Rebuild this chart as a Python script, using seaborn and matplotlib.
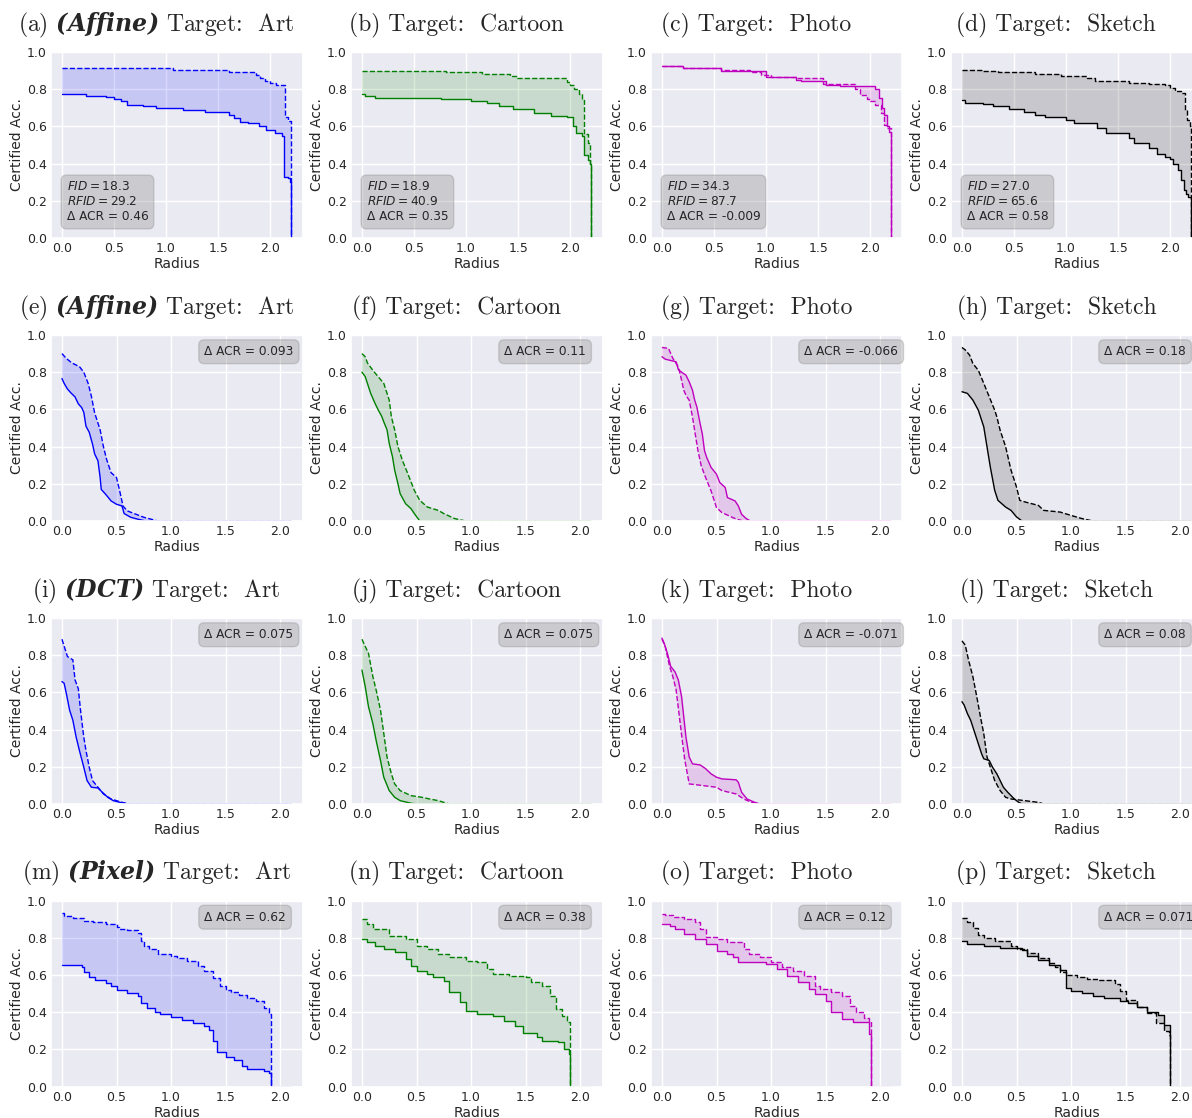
import matplotlib
matplotlib.use("Agg")
import matplotlib.pyplot as plt
import seaborn as sns

# ---------------- data (radius, certified accuracy) knots ----------------
a_dashed = [(0, 0.914), (1.07, 0.905), (1.6, 0.895), (1.86, 0.875), (1.9, 0.86), (1.95, 0.845), (2.0, 0.835),
            (2.06, 0.825), (2.14, 0.65), (2.17, 0.63), (2.2, 0.0)]
a_solid = [(0, 0.775), (0.23, 0.765), (0.42, 0.757), (0.5, 0.748), (0.57, 0.737), (0.62, 0.716), (0.78, 0.707),
           (0.9, 0.698), (1.16, 0.69), (1.37, 0.676), (1.6, 0.66), (1.65, 0.645), (1.71, 0.626), (1.79, 0.617),
           (1.89, 0.6), (1.96, 0.58), (2.05, 0.563), (2.11, 0.55), (2.13, 0.33), (2.17, 0.32), (2.19, 0.30), (2.2, 0.0)]
b_dashed = [(0, 0.90), (0.81, 0.892), (1.15, 0.883), (1.42, 0.872), (1.49, 0.858), (1.97, 0.84), (2.0, 0.82),
            (2.04, 0.80), (2.08, 0.775), (2.11, 0.74), (2.13, 0.56), (2.17, 0.51), (2.19, 0.40), (2.2, 0.0)]
b_solid = [(0, 0.775), (0.03, 0.766), (0.13, 0.755), (0.76, 0.746), (1.05, 0.737), (1.2, 0.725), (1.32, 0.707),
           (1.45, 0.692), (1.65, 0.67), (1.82, 0.656), (1.97, 0.649), (2.03, 0.6), (2.06, 0.563), (2.11, 0.55),
           (2.13, 0.446), (2.17, 0.42), (2.19, 0.40), (2.2, 0.0)]
c_dashed = [(0, 0.923), (0.2, 0.914), (0.57, 0.905), (0.85, 0.89), (0.95, 0.875), (1.05, 0.865), (1.3, 0.858),
            (1.55, 0.83), (1.85, 0.80), (1.9, 0.77), (1.97, 0.75), (2.0, 0.734), (2.05, 0.716), (2.1, 0.67),
            (2.13, 0.61), (2.16, 0.59), (2.2, 0.0)]
c_solid = [(0, 0.923), (0.2, 0.914), (0.57, 0.896), (1.0, 0.865), (1.29, 0.851), (1.34, 0.842), (1.58, 0.824),
           (1.71, 0.815), (2.05, 0.80), (2.08, 0.752), (2.11, 0.70), (2.13, 0.662), (2.16, 0.60), (2.18, 0.572),
           (2.2, 0.0)]
d_dashed = [(0, 0.905), (0.2, 0.9), (0.35, 0.895), (0.7, 0.883), (0.95, 0.872), (1.2, 0.86), (1.28, 0.842),
            (1.6, 0.836), (1.8, 0.83), (1.95, 0.82), (2.0, 0.805), (2.05, 0.79), (2.1, 0.78), (2.14, 0.69),
            (2.16, 0.635), (2.19, 0.60), (2.2, 0.0)]
d_solid = [(0, 0.743), (0.03, 0.728), (0.2, 0.72), (0.3, 0.707), (0.45, 0.694), (0.6, 0.678), (0.7, 0.662),
           (0.8, 0.653), (1.0, 0.635), (1.08, 0.617), (1.3, 0.59), (1.38, 0.563), (1.6, 0.536), (1.65, 0.509),
           (1.8, 0.482), (1.87, 0.45), (1.95, 0.437), (2.0, 0.423), (2.03, 0.40), (2.07, 0.365), (2.1, 0.31),
           (2.13, 0.257), (2.15, 0.239), (2.17, 0.221), (2.2, 0.0)]
e_dashed = [(0, 0.9), (0.04, 0.874), (0.09, 0.85), (0.16, 0.83), (0.2, 0.80), (0.24, 0.74), (0.27, 0.67),
            (0.3, 0.58), (0.32, 0.545), (0.35, 0.49), (0.38, 0.40), (0.41, 0.33), (0.45, 0.26), (0.5, 0.234),
            (0.53, 0.16), (0.56, 0.08), (0.6, 0.054), (0.68, 0.036), (0.75, 0.02), (0.88, 0.0), (2.1, 0.0)]
e_solid = [(0, 0.766), (0.02, 0.74), (0.05, 0.71), (0.08, 0.69), (0.12, 0.667), (0.15, 0.63), (0.18, 0.61),
           (0.2, 0.585), (0.22, 0.51), (0.25, 0.477), (0.28, 0.414), (0.3, 0.36), (0.33, 0.324), (0.35, 0.234),
           (0.36, 0.17), (0.4, 0.144), (0.45, 0.108), (0.5, 0.09), (0.55, 0.081), (0.57, 0.04), (0.63, 0.02),
           (0.7, 0.009), (0.77, 0.0), (2.1, 0.0)]
f_dashed = [(0, 0.90), (0.03, 0.883), (0.05, 0.85), (0.1, 0.81), (0.15, 0.775), (0.2, 0.74), (0.25, 0.65),
            (0.27, 0.56), (0.3, 0.49), (0.33, 0.40), (0.37, 0.327), (0.42, 0.255), (0.48, 0.165), (0.53, 0.111),
            (0.6, 0.075), (0.7, 0.057), (0.75, 0.04), (0.85, 0.013), (0.95, 0.0), (2.1, 0.0)]
f_solid = [(0, 0.80), (0.03, 0.776), (0.05, 0.74), (0.08, 0.686), (0.12, 0.632), (0.15, 0.596), (0.18, 0.564),
           (0.2, 0.533), (0.23, 0.49), (0.25, 0.417), (0.28, 0.345), (0.3, 0.273), (0.33, 0.2), (0.35, 0.147),
           (0.4, 0.093), (0.45, 0.066), (0.48, 0.04), (0.53, 0.0), (2.1, 0.0)]
g_dashed = [(0, 0.933), (0.06, 0.928), (0.1, 0.874), (0.15, 0.829), (0.18, 0.757), (0.2, 0.703), (0.22, 0.676),
            (0.25, 0.649), (0.28, 0.559), (0.3, 0.486), (0.33, 0.378), (0.36, 0.297), (0.4, 0.234), (0.45, 0.162),
            (0.5, 0.072), (0.55, 0.045), (0.6, 0.032), (0.65, 0.018), (0.7, 0.007), (0.75, 0.0), (2.1, 0.0)]
g_solid = [(0, 0.883), (0.03, 0.87), (0.13, 0.856), (0.15, 0.814), (0.18, 0.80), (0.22, 0.784), (0.25, 0.748),
           (0.28, 0.703), (0.3, 0.65), (0.32, 0.613), (0.35, 0.523), (0.37, 0.468), (0.39, 0.378), (0.41, 0.342),
           (0.45, 0.288), (0.5, 0.252), (0.53, 0.207), (0.58, 0.18), (0.6, 0.126), (0.67, 0.108), (0.7, 0.081),
           (0.73, 0.036), (0.77, 0.014), (0.81, 0.0), (2.1, 0.0)]
h_dashed = [(0, 0.933), (0.03, 0.92), (0.07, 0.892), (0.1, 0.847), (0.15, 0.81), (0.2, 0.74), (0.25, 0.668),
            (0.3, 0.596), (0.32, 0.56), (0.35, 0.488), (0.4, 0.40), (0.45, 0.273), (0.5, 0.183), (0.53, 0.111),
            (0.58, 0.102), (0.7, 0.084), (0.75, 0.057), (0.9, 0.048), (1.0, 0.03), (1.1, 0.013), (1.2, 0.0),
            (2.1, 0.0)]
h_solid = [(0, 0.695), (0.05, 0.686), (0.1, 0.65), (0.15, 0.596), (0.2, 0.506), (0.23, 0.398), (0.26, 0.29),
           (0.3, 0.165), (0.33, 0.111), (0.4, 0.075), (0.45, 0.057), (0.5, 0.022), (0.55, 0.0), (2.1, 0.0)]
i_dashed = [(0, 0.886), (0.05, 0.793), (0.1, 0.775), (0.12, 0.667), (0.15, 0.62), (0.17, 0.505), (0.2, 0.36),
            (0.22, 0.288), (0.25, 0.198), (0.28, 0.126), (0.33, 0.09), (0.38, 0.054), (0.45, 0.027), (0.55, 0.009),
            (0.62, 0.0), (2.1, 0.0)]
i_solid = [(0, 0.658), (0.02, 0.649), (0.04, 0.595), (0.07, 0.505), (0.1, 0.45), (0.13, 0.36), (0.16, 0.288),
           (0.2, 0.198), (0.23, 0.126), (0.27, 0.09), (0.33, 0.086), (0.37, 0.063), (0.42, 0.036), (0.47, 0.018),
           (0.53, 0.009), (0.6, 0.0), (2.1, 0.0)]
j_dashed = [(0, 0.886), (0.03, 0.847), (0.06, 0.81), (0.1, 0.685), (0.13, 0.613), (0.17, 0.505), (0.2, 0.38),
            (0.23, 0.252), (0.27, 0.162), (0.3, 0.108), (0.35, 0.072), (0.45, 0.045), (0.55, 0.036), (0.62, 0.027),
            (0.7, 0.018), (0.8, 0.0), (2.1, 0.0)]
j_solid = [(0, 0.72), (0.03, 0.631), (0.06, 0.523), (0.1, 0.432), (0.13, 0.342), (0.17, 0.234), (0.2, 0.144),
           (0.25, 0.072), (0.3, 0.036), (0.35, 0.018), (0.45, 0.004), (0.5, 0.0), (2.1, 0.0)]
k_dashed = [(0, 0.886), (0.03, 0.847), (0.07, 0.74), (0.1, 0.685), (0.13, 0.613), (0.16, 0.468), (0.19, 0.324),
            (0.21, 0.234), (0.25, 0.108), (0.5, 0.09), (0.55, 0.072), (0.68, 0.054), (0.75, 0.027), (0.82, 0.009),
            (0.9, 0.0), (2.1, 0.0)]
k_solid = [(0, 0.892), (0.02, 0.865), (0.05, 0.81), (0.08, 0.74), (0.12, 0.71), (0.15, 0.667), (0.18, 0.577),
           (0.2, 0.468), (0.22, 0.36), (0.25, 0.252), (0.28, 0.216), (0.35, 0.21), (0.4, 0.19), (0.45, 0.162),
           (0.5, 0.144), (0.55, 0.135), (0.68, 0.13), (0.7, 0.117), (0.73, 0.063), (0.78, 0.027), (0.85, 0.009),
           (0.9, 0.0), (2.1, 0.0)]
l_dashed = [(0, 0.877), (0.03, 0.855), (0.06, 0.775), (0.1, 0.685), (0.13, 0.595), (0.17, 0.468), (0.2, 0.378),
            (0.23, 0.252), (0.27, 0.18), (0.3, 0.126), (0.35, 0.072), (0.4, 0.036), (0.45, 0.027), (0.7, 0.009),
            (0.75, 0.0), (2.1, 0.0)]
l_solid = [(0, 0.55), (0.02, 0.532), (0.05, 0.486), (0.08, 0.45), (0.12, 0.378), (0.15, 0.324), (0.18, 0.27),
           (0.2, 0.243), (0.25, 0.234), (0.28, 0.198), (0.32, 0.162), (0.35, 0.126), (0.38, 0.09), (0.42, 0.063),
           (0.48, 0.027), (0.52, 0.009), (0.55, 0.0), (2.1, 0.0)]
m_dashed = [(0, 0.935), (0.02, 0.914), (0.1, 0.905), (0.2, 0.892), (0.28, 0.883), (0.4, 0.873), (0.5, 0.86),
            (0.52, 0.848), (0.6, 0.842), (0.7, 0.824), (0.72, 0.78), (0.75, 0.756), (0.8, 0.738), (0.88, 0.71),
            (1.0, 0.70), (1.05, 0.69), (1.15, 0.674), (1.25, 0.647), (1.3, 0.62), (1.38, 0.584), (1.45, 0.54),
            (1.5, 0.519), (1.55, 0.508), (1.62, 0.49), (1.7, 0.476), (1.78, 0.458), (1.85, 0.423), (1.9, 0.39),
            (1.92, 0.0), (2.1, 0.0)]
m_solid = [(0, 0.654), (0.18, 0.64), (0.2, 0.618), (0.25, 0.59), (0.3, 0.573), (0.4, 0.556), (0.45, 0.538),
           (0.5, 0.52), (0.6, 0.502), (0.7, 0.485), (0.72, 0.448), (0.78, 0.421), (0.85, 0.403), (0.9, 0.39),
           (1.0, 0.376), (1.1, 0.358), (1.2, 0.34), (1.3, 0.323), (1.35, 0.305), (1.38, 0.242), (1.42, 0.188),
           (1.5, 0.161), (1.58, 0.143), (1.65, 0.108), (1.7, 0.093), (1.85, 0.084), (1.9, 0.072), (1.92, 0.0),
           (2.1, 0.0)]
n_dashed = [(0, 0.90), (0.05, 0.874), (0.1, 0.847), (0.25, 0.811), (0.4, 0.793), (0.5, 0.758), (0.6, 0.74),
            (0.7, 0.713), (0.8, 0.695), (0.95, 0.677), (1.05, 0.668), (1.15, 0.632), (1.2, 0.605), (1.35, 0.596),
            (1.5, 0.587), (1.55, 0.56), (1.65, 0.542), (1.72, 0.488), (1.78, 0.417), (1.83, 0.38), (1.88, 0.345),
            (1.91, 0.0), (2.1, 0.0)]
n_solid = [(0, 0.793), (0.05, 0.776), (0.12, 0.758), (0.2, 0.74), (0.3, 0.722), (0.4, 0.686), (0.45, 0.65),
           (0.5, 0.623), (0.6, 0.605), (0.65, 0.587), (0.75, 0.569), (0.8, 0.506), (0.9, 0.452), (0.95, 0.408),
           (1.05, 0.39), (1.2, 0.38), (1.3, 0.354), (1.4, 0.327), (1.48, 0.287), (1.6, 0.264), (1.65, 0.246),
           (1.8, 0.237), (1.85, 0.2), (1.9, 0.174), (1.91, 0.0), (2.1, 0.0)]
o_dashed = [(0, 0.928), (0.03, 0.92), (0.1, 0.91), (0.2, 0.898), (0.3, 0.883), (0.35, 0.847), (0.4, 0.803),
            (0.5, 0.793), (0.6, 0.776), (0.75, 0.74), (0.8, 0.713), (0.9, 0.695), (1.0, 0.668), (1.1, 0.641),
            (1.2, 0.623), (1.3, 0.596), (1.4, 0.542), (1.45, 0.524), (1.55, 0.506), (1.65, 0.488), (1.72, 0.434),
            (1.78, 0.398), (1.85, 0.37), (1.9, 0.35), (1.92, 0.0), (2.1, 0.0)]
o_solid = [(0, 0.874), (0.07, 0.865), (0.12, 0.847), (0.2, 0.82), (0.3, 0.793), (0.4, 0.767), (0.5, 0.731),
           (0.6, 0.713), (0.65, 0.695), (0.7, 0.668), (0.95, 0.659), (1.05, 0.632), (1.15, 0.596), (1.25, 0.56),
           (1.35, 0.524), (1.4, 0.497), (1.5, 0.461), (1.55, 0.398), (1.65, 0.362), (1.75, 0.348), (1.85, 0.345),
           (1.9, 0.282), (1.92, 0.0), (2.1, 0.0)]
p_dashed = [(0, 0.905), (0.05, 0.887), (0.1, 0.851), (0.15, 0.815), (0.2, 0.797), (0.3, 0.78), (0.45, 0.753),
            (0.5, 0.738), (0.6, 0.717), (0.7, 0.69), (0.8, 0.663), (0.85, 0.645), (0.9, 0.618), (0.95, 0.60),
            (1.05, 0.59), (1.15, 0.58), (1.25, 0.572), (1.4, 0.553), (1.45, 0.511), (1.5, 0.466), (1.6, 0.43),
            (1.7, 0.394), (1.78, 0.34), (1.85, 0.296), (1.9, 0.278), (1.91, 0.0), (2.1, 0.0)]
p_solid = [(0, 0.78), (0.05, 0.767), (0.2, 0.756), (0.35, 0.744), (0.55, 0.735), (0.6, 0.699), (0.7, 0.68),
           (0.8, 0.654), (0.9, 0.627), (0.95, 0.529), (1.0, 0.511), (1.1, 0.502), (1.2, 0.484), (1.3, 0.475),
           (1.45, 0.457), (1.52, 0.448), (1.6, 0.43), (1.7, 0.403), (1.8, 0.385), (1.85, 0.33), (1.91, 0.0),
           (2.1, 0.0)]

dashed_series = [a_dashed, b_dashed, c_dashed, d_dashed, e_dashed, f_dashed, g_dashed, h_dashed,
                 i_dashed, j_dashed, k_dashed, l_dashed, m_dashed, n_dashed, o_dashed, p_dashed]
solid_series = [a_solid, b_solid, c_solid, d_solid, e_solid, f_solid, g_solid, h_solid,
                i_solid, j_solid, k_solid, l_solid, m_solid, n_solid, o_solid, p_solid]

panel_letters = list("abcdefghijklmnop")
row_methods = ["(Affine)", "(Affine)", "(DCT)", "(Pixel)"]
targets = ["Art", "Cartoon", "Photo", "Sketch"]
colors = ["#0000ff", "#008000", "#bf00bf", "#000000"]
fid_values = ["18.3", "18.9", "34.3", "27.0"]
rfid_values = ["29.2", "40.9", "87.7", "65.6"]
dacr_row1 = ["0.46", "0.35", "-0.009", "0.58"]
dacr_row2 = ["0.093", "0.11", "-0.066", "0.18"]
dacr_row3 = ["0.075", "0.075", "-0.071", "0.08"]
dacr_row4 = ["0.62", "0.38", "0.12", "0.071"]
dacr_rows = [dacr_row1, dacr_row2, dacr_row3, dacr_row4]
x_ticks = [0.0, 0.5, 1.0, 1.5, 2.0]
y_ticks = [0.0, 0.2, 0.4, 0.6, 0.8, 1.0]

# ---------------- style ----------------
sns.set_theme(style="darkgrid")
plt.rcParams["mathtext.fontset"] = "custom"
plt.rcParams["mathtext.bfit"] = "DejaVu Serif:italic:bold"
plt.rcParams["mathtext.it"] = "DejaVu Sans:italic"
plt.rcParams["mathtext.rm"] = "DejaVu Sans"
plt.rcParams["xtick.labelsize"] = 9
plt.rcParams["ytick.labelsize"] = 9
plt.rcParams["xtick.major.size"] = 0
plt.rcParams["ytick.major.size"] = 0
plt.rcParams["xtick.major.pad"] = 3
plt.rcParams["ytick.major.pad"] = 2.5

row_is_step = [True, False, False, True]


def step_path(pts, step):
    if not step:
        return [p[0] for p in pts], [p[1] for p in pts]
    xs, ys = [pts[0][0]], [pts[0][1]]
    for k in range(1, len(pts)):
        xs += [pts[k][0], pts[k][0]]
        ys += [pts[k - 1][1], pts[k][1]]
    return xs, ys


W, H = 1192.0, 1118.0
fig = plt.figure(figsize=(W / 100, H / 100), dpi=100)
ax_w, ax_h = 252.0, 186.0
col_left = [50.5 + 300 * c for c in range(4)]
row_top = [52.0, 335.0, 618.0, 900.5]

for r in range(4):
    for c in range(4):
        idx = 4 * r + c
        ax = fig.add_axes([col_left[c] / W, 1 - (row_top[r] + ax_h) / H, ax_w / W, ax_h / H])
        col = colors[c]
        up = dashed_series[idx]
        lo = solid_series[idx]
        st = row_is_step[r]
        ux, uy = step_path(up, st)
        lx, ly = step_path(lo, st)
        ax.fill(ux + lx[::-1], uy + ly[::-1], color=col, alpha=0.15, lw=0)
        sns.lineplot(x=ux, y=uy, ax=ax, color=col, lw=1.0,
                     linestyle="--", estimator=None, sort=False)
        sns.lineplot(x=lx, y=ly, ax=ax, color=col, lw=1.0,
                     linestyle="-", estimator=None, sort=False)
        ax.set_ylim(0, 1)
        ax.set_xticks(x_ticks)
        ax.set_yticks(y_ticks)
        ax.set_xlabel("Radius", fontsize=10, labelpad=1.5)
        ax.set_ylabel("Certified Acc.", fontsize=10, labelpad=2.5)
        if c == 0:
            title = f"({panel_letters[idx]}) $\\mathbfit{{{row_methods[r]}}}$ Target:  {targets[c]}"
        else:
            title = f"({panel_letters[idx]}) Target:  {targets[c]}"
        ax.set_title(title, x=0.42, pad=15, fontsize=17, fontfamily="cmr10")
        box = dict(boxstyle="round,pad=0.45", fc="gray", ec="gray", alpha=0.3)
        if r == 0:
            txt = f"$FID = {fid_values[c]}$\n$RFID = {rfid_values[c]}$\nΔ ACR = {dacr_rows[r][c]}"
            ax.text(0.064, 0.078, txt, transform=ax.transAxes, ha="left", va="bottom",
                    fontsize=8.7, bbox=box)
        else:
            ax.text(0.61, 0.945, f"Δ ACR = {dacr_rows[r][c]}", transform=ax.transAxes,
                    ha="left", va="top", fontsize=8.7, bbox=box)

fig.savefig("out.png", dpi=100)
